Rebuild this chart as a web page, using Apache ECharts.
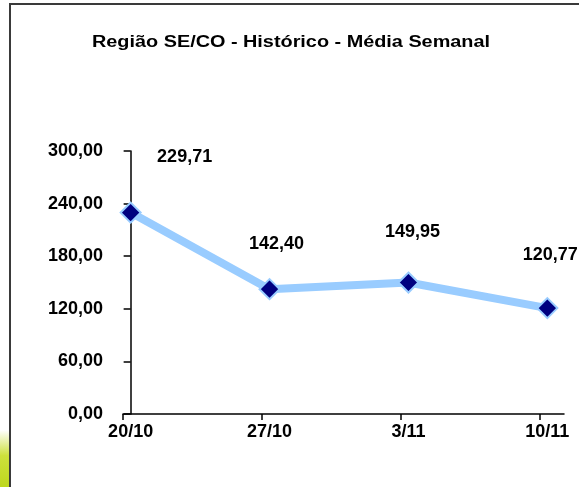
<!DOCTYPE html>
<html>
<head>
<meta charset="utf-8">
<script src="https://cdn.jsdelivr.net/npm/echarts@6/dist/echarts.min.js"></script>
<style>html,body{margin:0;padding:0;background:#fff;}#c{width:579px;height:487px;}</style>
</head>
<body>
<div id="c"></div>
<script>
var title = 'Região SE/CO - Histórico - Média Semanal';
var categories = ['20/10', '27/10', '3/11', '10/11'];
var values = [229.71, 142.40, 149.95, 120.77];
var yTicks = [0, 60, 120, 180, 240, 300];

var FONT = '"Liberation Sans", Arial, sans-serif';
var labelOffsets = [[54, -56], [7, -45], [4, -51], [3, -53]];
function fmt(v) { return v.toFixed(2).replace('.', ','); }
var catIdx = categories.map(function (c, i) { return i; });
var tickPos = categories.map(function (c, i) { return i - 0.055; });

var chart = echarts.init(document.getElementById('c'));
chart.setOption({
  backgroundColor: '#fff',
  animation: false,
  graphic: [
    { type: 'rect', shape: { x: 0, y: 430, width: 10, height: 57 }, silent: true, z: -1,
      style: { fill: new echarts.graphic.LinearGradient(0, 0, 0, 1, [
        { offset: 0, color: 'rgba(255,255,255,1)' },
        { offset: 0.45, color: 'rgba(205,225,60,1)' },
        { offset: 1, color: 'rgba(190,215,30,1)' }]) } },
    { type: 'rect', shape: { x: 10, y: 4, width: 700, height: 700 }, silent: true,
      style: { fill: 'none', stroke: '#3a3a3a', lineWidth: 2 } },
    { type: 'text', x: 291, y: 43, scaleX: 1.24, silent: true,
      style: { text: title, align: 'center', verticalAlign: 'middle',
               font: 'bold 16px "Liberation Sans", Arial, sans-serif', fill: '#000' } }
  ],
  grid: { left: 123, right: 15, top: 151, bottom: 73, containLabel: false },
  xAxis: {
    type: 'value', min: -0.055, max: 3.12,
    axisLine: { show: true, lineStyle: { color: '#000', width: 1.5 } },
    axisTick: { show: true, length: 6, inside: false, customValues: tickPos, lineStyle: { color: '#000', width: 1.5 } },
    axisLabel: {
      customValues: catIdx, margin: 9,
      formatter: function (v) { return categories[Math.round(v)] || ''; },
      fontFamily: FONT, fontSize: 18, fontWeight: 'bold', color: '#000'
    },
    splitLine: { show: false }
  },
  yAxis: {
    type: 'value', min: 0, max: 300, interval: 60,
    axisLine: { show: true, lineStyle: { color: '#000', width: 1.5 } },
    axisTick: { show: true, length: 7, inside: false, lineStyle: { color: '#000', width: 1.5 } },
    axisLabel: {
      margin: 20, customValues: yTicks,
      formatter: function (v) { return fmt(v); },
      fontFamily: FONT, fontSize: 18, fontWeight: 'bold', color: '#000'
    },
    splitLine: { show: false }
  },
  series: [{
    type: 'line',
    data: values.map(function (v, i) {
      return { value: [i, v], label: { offset: labelOffsets[i] } };
    }),
    lineStyle: { color: '#99CCFF', width: 8 },
    symbol: 'diamond', symbolSize: 20,
    itemStyle: { color: '#000080', borderColor: '#99CCFF', borderWidth: 2 },
    label: {
      show: true, position: 'inside',
      formatter: function (p) { return fmt(p.value[1]); },
      fontFamily: FONT, fontSize: 18, fontWeight: 'bold', color: '#000'
    },
    z: 3
  }]
});
</script>
</body>
</html>
